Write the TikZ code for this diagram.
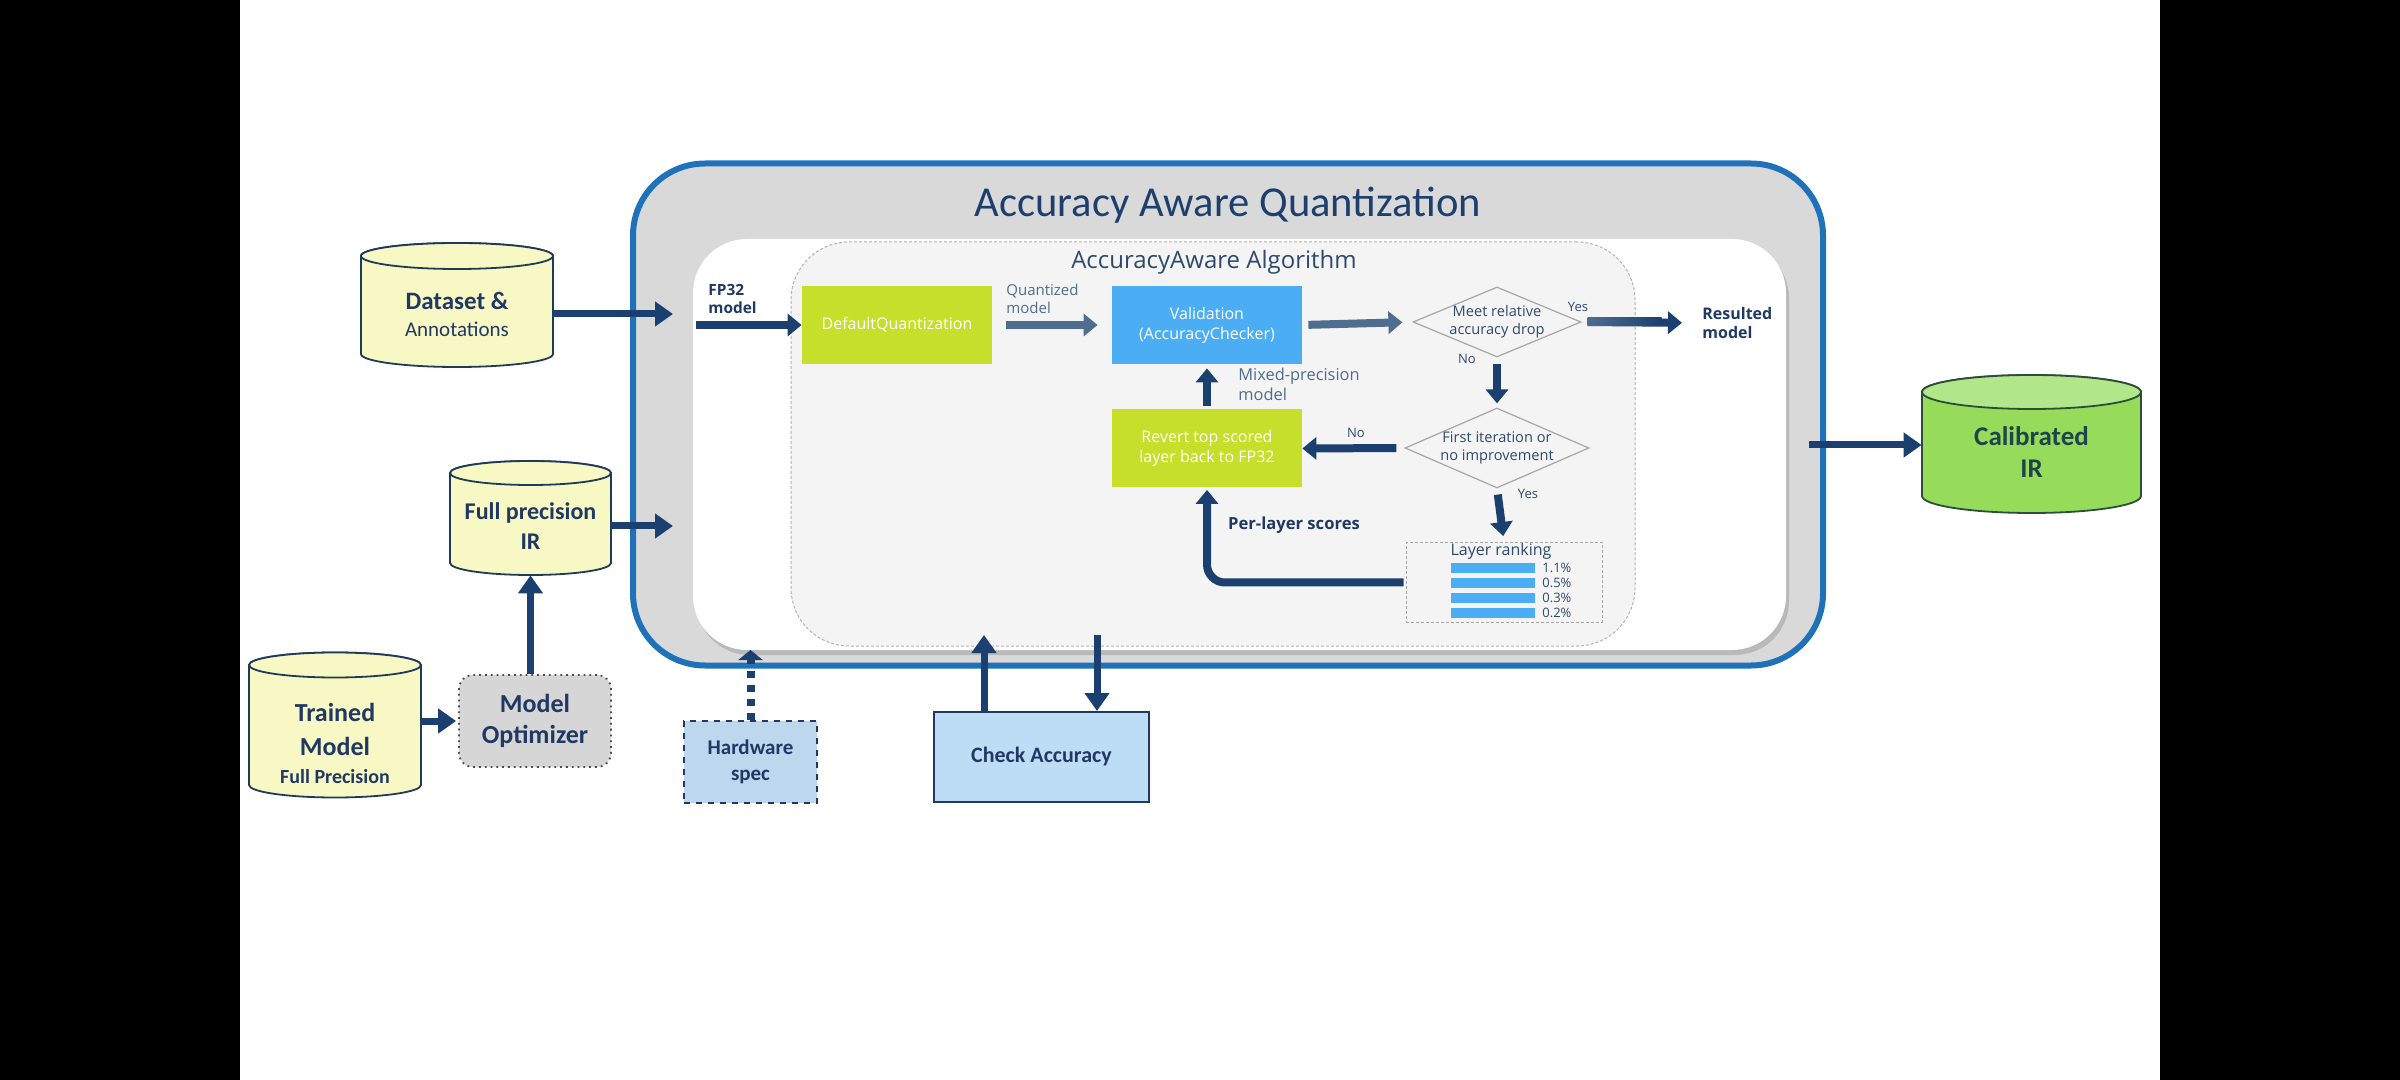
\documentclass[tikz,border=0pt]{standalone}
\usepackage{fontspec}
\setmainfont{Carlito}
\newfontfamily\osans{Open Sans}
\usetikzlibrary{arrows.meta,shapes.geometric,calc,shadows}
\pgfdeclarelayer{bg}
\pgfsetlayers{bg,main}
\definecolor{navy}{HTML}{1B3F6E}
\definecolor{steel}{HTML}{4E6D8F}
\definecolor{txtnavy}{HTML}{1F3864}
\definecolor{frameblue}{HTML}{1F72BA}
\definecolor{framegray}{HTML}{D9D9D9}
\definecolor{algbg}{HTML}{F4F4F4}
\definecolor{lime}{HTML}{C5DF2A}
\definecolor{valblue}{HTML}{4BAEF4}
\definecolor{yel}{HTML}{F8F8C4}
\definecolor{cylline}{HTML}{1F3B5A}
\definecolor{calgreen}{HTML}{96DC5A}
\definecolor{caltop}{HTML}{B2E68A}
\definecolor{calline}{HTML}{2B4E3A}
\definecolor{caltext}{HTML}{1D4550}
\definecolor{hwblue}{HTML}{BDD7EE}
\definecolor{cablue}{HTML}{BDDDF7}
\definecolor{mogray}{HTML}{D6D6D6}
\definecolor{titleblue}{HTML}{1C3F6E}
\definecolor{slate}{HTML}{2E4A6A}
% cylinder: #1 centre, #2 body fill, #3 top fill, #4 x radius, #5 half height, #6 y radius, #7 line colour
\newcommand\dbcyl[7]{%
  \begin{pgfonlayer}{bg}
  \filldraw[fill=#2,draw=#7,line width=0.9pt] ([shift={(-#4,#5-#6)}]#1) -- ([shift={(-#4,-#5+#6)}]#1)
    arc[start angle=180,end angle=360,x radius=#4,y radius=#6] -- ([shift={(#4,#5-#6)}]#1)
    arc[start angle=0,end angle=180,x radius=#4,y radius=#6] -- cycle;
  \filldraw[fill=#3,draw=#7,line width=0.9pt] ([shift={(0,#5-#6)}]#1) ellipse[x radius=#4,y radius=#6];
  \end{pgfonlayer}}
\tikzset{
  blk/.style={minimum width=95pt,minimum height=39pt,inner sep=1pt,align=center,text=white,font=\osans\fontsize{8}{10}\selectfont},
  dia/.style={diamond,draw=gray!70,fill=algbg,line width=0.6pt,inner sep=-4pt,aspect=2.4,align=center,text=slate,font=\osans\fontsize{7.3}{9}\selectfont},
  lblb/.style={align=left,text=txtnavy,font=\osans\bfseries\fontsize{7.7}{9}\selectfont},
  lbls/.style={align=left,text=steel,font=\osans\fontsize{7.5}{9}\selectfont},
  yn/.style={text=slate,font=\osans\fontsize{6.5}{8}\selectfont},
  arr/.style={line width=4pt,navy,-{Triangle[length=7pt,width=11pt]}},
  sarr/.style={line width=4pt,steel,-{Triangle[length=7pt,width=11pt]}},
  bigarr/.style={line width=3.5pt,navy,-{Triangle[length=9pt,width=12pt]}},
  cyl/.style={inner sep=0pt,align=center,text=txtnavy},
  bar/.style={fill=valblue,minimum width=42pt,minimum height=5pt,inner sep=0pt},
  pct/.style={anchor=west,text=slate,inner sep=0pt,font=\osans\fontsize{6.5}{7}\selectfont},
}
\begin{document}
\begin{tikzpicture}[x=0.5pt,y=0.5pt]
\useasboundingbox (0,0) rectangle (2400,-1080);
\begin{pgfonlayer}{bg}
\fill[black] (0,0) rectangle (2400,-1080);
\fill[white] (240,0) rectangle (2160,-1080);
\end{pgfonlayer}

% frames
\node[draw=frameblue,line width=3pt,fill=framegray,rounded corners=36pt,minimum width=595pt,minimum height=251pt,inner sep=0pt] (aaq) at (1228,-414.5) {};
\node[font=\fontsize{21.3}{24}\selectfont,text=titleblue] (title) at (1228,-205) {Accuracy Aware Quantization};
\node[fill=white,rounded corners=27pt,minimum width=546.5pt,minimum height=205.5pt,inner sep=0pt,
      drop shadow={shadow xshift=1.5pt,shadow yshift=-2.5pt,opacity=0.35,fill=gray}] (wb) at (1239.5,-444.5) {};
\node[draw=gray!60,dash pattern=on 1.5pt off 1pt,line width=0.5pt,fill=algbg,rounded corners=29pt,minimum width=422pt,minimum height=202pt,inner sep=0pt] (alg) at (1213,-444) {};
\node[text=slate,font=\osans\fontsize{12}{13}\selectfont] (algt) at (1214,-262) {AccuracyAware Algorithm};

% algorithm blocks
\node[blk,fill=lime] (dq) at (897,-325) {DefaultQuantization};
\node[blk,fill=valblue] (val) at (1207,-325) {Validation\\(AccuracyChecker)};
\node[blk,fill=lime] (rev) at (1207,-448.5) {Revert top scored\\layer back to FP32};
\node[dia,minimum width=84pt,minimum height=35pt] (d1) at (1497,-322) {Meet relative\\accuracy drop};
\node[dia,minimum width=92pt,minimum height=40pt] (d2) at (1497,-448) {First iteration or\\no improvement};
\node[draw=gray!70,dash pattern=on 1.5pt off 1pt,line width=0.5pt,fill=algbg,minimum width=98pt,minimum height=40pt,inner sep=0pt] (lr) at (1504,-582.5) {};
\node[text=slate,font=\osans\fontsize{8}{9}\selectfont] (lrt) at (1501,-551) {Layer ranking};
\node[bar] (b1) at (1493,-568) {};
\node[bar] (b2) at (1493,-583) {};
\node[bar] (b3) at (1493,-598) {};
\node[bar] (b4) at (1493,-613) {};
\node[pct] (p1) at (1542,-568) {1.1\%};
\node[pct] (p2) at (1542,-583) {0.5\%};
\node[pct] (p3) at (1542,-598) {0.3\%};
\node[pct] (p4) at (1542,-613) {0.2\%};

% labels
\node[lblb,anchor=south west,inner sep=0pt] (fpl) at (708,-314) {FP32\\model};
\node[lbls,anchor=south west,inner sep=0pt] (qml) at (1006,-314) {Quantized\\model};
\node[lblb,anchor=west,inner sep=0pt,font=\osans\bfseries\fontsize{8}{9.5}\selectfont] (res) at (1702,-323) {Resulted\\model};
\node[lbls,anchor=north west,inner sep=0pt,font=\osans\fontsize{8.2}{10}\selectfont] (mpl) at (1238,-368) {Mixed-precision\\model};
\node[lblb,inner sep=0pt,font=\osans\bfseries\fontsize{8.3}{10}\selectfont] (pls) at (1294,-525) {Per-layer scores};
\node[yn] (y1) at (1578,-307) {Yes};
\node[yn] (n1) at (1467,-359) {No};
\node[yn] (n2) at (1356,-433) {No};
\node[yn] (y2) at (1528,-494) {Yes};

% algorithm arrows
\coordinate (fpin) at (696,-325);
\draw[arr] (fpin) -- (dq.west);
\draw[sarr,shorten <=7pt,shorten >=7pt] (dq.east) -- (val.west);
\draw[sarr,shorten <=3pt,shorten >=5pt] (val.east) -- (d1.west);
\draw[arr,shorten <=3pt,shorten >=10pt] (d1.east) -- (res.west);
\shade[left color=steel,right color=navy] ([xshift=3pt,yshift=2pt]d1.east) rectangle ([xshift=40pt,yshift=-2pt]d1.east);
\draw[arr,shorten <=3pt,shorten >=2pt] (d1.south) -- (d2.north);
\draw[arr,shorten <=4pt] (d2.west) -- (rev.east);
\draw[arr,shorten <=1.5pt,shorten >=2pt] (rev.north) -- (val.south);
\draw[arr,shorten <=3pt,shorten >=3pt] (d2.south) -- (lr.north);
\draw[arr,rounded corners=9pt,shorten <=1pt,shorten >=1pt] (lr.west) -| (rev.south);

% outside
\coordinate (dsc) at (457,-305);
\dbcyl{dsc}{yel}{yel}{48pt}{31pt}{6.5pt}{cylline}
\node[cyl,minimum width=96pt,minimum height=50pt,font=\bfseries\fontsize{12.5}{13.5}\selectfont] (ds) at (457,-314)
  {Dataset \&\\{\fontsize{10.5}{13.5}\selectfont\mdseries Annotations}};
\coordinate (dsin) at (673,-314);
\draw[bigarr] (ds.east) -- (dsin);

\coordinate (fpc) at (530.5,-518);
\dbcyl{fpc}{yel}{yel}{40.25pt}{28.5pt}{6pt}{cylline}
\node[cyl,minimum width=80.5pt,minimum height=49pt,font=\bfseries\fontsize{12}{15}\selectfont] (fp) at (530.5,-526) {Full precision\\IR};
\coordinate (fpin2) at (673,-526);
\draw[bigarr] (fp.east) -- (fpin2);

\coordinate (tmc) at (335,-725);
\dbcyl{tmc}{yel}{yel}{43pt}{36.25pt}{6.25pt}{cylline}
\node[cyl,minimum width=86pt,font=\bfseries\fontsize{13}{17}\selectfont] (tm) at (335,-743)
  {Trained\\Model\\[-3pt]{\fontsize{10}{17}\selectfont Full Precision}};

\node[draw=gray!60!black,dotted,line width=0.9pt,fill=mogray,rounded corners=7pt,minimum width=76pt,minimum height=46pt,align=center,text=txtnavy,font=\bfseries\fontsize{13}{15.5}\selectfont] (mo) at (535,-721) {Model\\Optimizer};
\draw[bigarr,shorten >=1pt] (tm.east |- mo.west) -- (mo.west);
\draw[bigarr] (mo.north -| fp.south) -- (fp.south);

\node[draw=txtnavy,dashed,line width=0.8pt,fill=hwblue,minimum width=66.5pt,minimum height=41pt,align=center,text=txtnavy,font=\bfseries\fontsize{10.5}{13}\selectfont] (hw) at (750.5,-762) {Hardware\\spec};
\coordinate (hwin) at (750.5,-650);
\draw[navy,line width=4pt,dash pattern=on 3.5pt off 3.5pt,-{Triangle[length=5pt,width=12pt]}] (hw.north) -- (hwin);

\node[draw=txtnavy,line width=1pt,fill=cablue,minimum width=107.5pt,minimum height=45pt,text=txtnavy,font=\bfseries\fontsize{11}{13}\selectfont] (ca) at (1041.5,-757) {Check Accuracy};
\coordinate (caup) at (984,-635);
\coordinate (cadn) at (1097,-635);
\draw[bigarr] (caup |- ca.north) -- (caup);
\draw[bigarr] (cadn) -- (cadn |- ca.north);

\coordinate (calc) at (2031.5,-444);
\dbcyl{calc}{calgreen}{caltop}{54.75pt}{34.5pt}{8.5pt}{calline}
\node[cyl,minimum width=109.5pt,text=caltext,font=\bfseries\fontsize{13.5}{16}\selectfont] (cal) at (2031.5,-452) {Calibrated\\IR};
\coordinate (calout) at (1809,-445);
\draw[bigarr] (calout) -- (calout -| cal.west);
\end{tikzpicture}
\end{document}
